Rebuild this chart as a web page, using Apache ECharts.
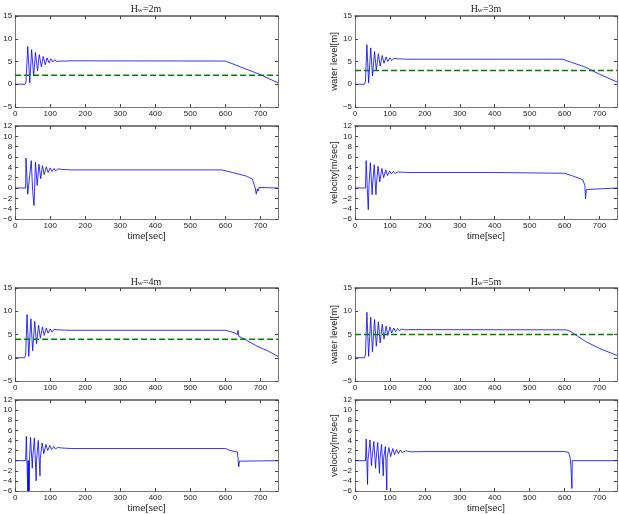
<!DOCTYPE html>
<html>
<head>
<meta charset="utf-8">
<script src="https://cdn.jsdelivr.net/npm/echarts@6/dist/echarts.min.js"></script>
<style>
  html, body { margin: 0; padding: 0; background: #fff; }
  #main { width: 619px; height: 514px; }
</style>
</head>
<body>
<div id="main"></div>
<script>
// weir height of each case [m]
var hwLevels = [2, 3, 4, 5];

// water level [m] over time [sec]
var waterLevel2 = [[0,0],[28,0],[31,0.5],[36,8.3],[42,0.3],[47,7.6],[53,1.8],[58,7.0],[64,3.0],[69,6.5],[75,3.8],[80,6.1],[86,4.3],[91,5.8],[97,4.7],[102,5.6],[108,4.9],[113,5.4],[119,5.0],[124,5.3],[130,5.1],[135,5.25],[145,5.1],[160,5.15],[600,5.1],[700,2.1],[750,0.3]];
var waterLevel3 = [[0,0],[27,0],[30,0.6],[34,8.7],[39,0.3],[45,8.0],[50,1.8],[56,7.2],[61,3.0],[67,6.7],[72,4.0],[78,6.3],[83,4.6],[89,6.0],[94,5.0],[100,5.8],[105,5.2],[111,5.7],[116,5.35],[122,5.6],[127,5.4],[135,5.55],[150,5.5],[595,5.5],[620,4.8],[655,3.9],[658,4.3],[660,3.6],[700,2.2],[750,0.5]];
var waterLevel4 = [[0,0],[27,0],[30,0.5],[34,9.3],[39,0.3],[45,8.4],[50,1.5],[56,7.8],[61,3.0],[67,7.0],[72,4.2],[78,6.6],[83,4.8],[89,6.4],[94,5.3],[100,6.2],[105,5.5],[111,6.1],[116,5.7],[122,6.0],[127,5.8],[140,5.95],[160,5.9],[600,5.9],[625,5.4],[634,5.0],[636,5.9],[638,4.6],[655,4.0],[690,2.5],[720,1.5],[750,0.3]];
var waterLevel5 = [[0,0],[27,0],[30,0.6],[34,9.8],[39,0.3],[45,8.7],[50,1.3],[56,8.2],[61,2.5],[67,7.7],[72,3.2],[78,7.2],[83,4.0],[89,6.8],[94,4.8],[100,6.6],[105,5.3],[111,6.4],[116,5.6],[122,6.3],[127,5.8],[133,6.15],[145,6.0],[160,6.05],[605,6.0],[618,5.6],[621,6.0],[623,5.2],[630,5.0],[660,3.5],[700,2.0],[750,0.5]];

// velocity [m/sec] over time [sec]
var velocity2 = [[0,0],[30,0],[31,5.8],[36,-1.2],[41,-1.0],[46,5.3],[50,-0.5],[54,-3.4],[58,5.0],[63,0.5],[68,4.6],[73,1.8],[78,4.3],[83,2.6],[89,4.1],[94,3.0],[100,3.9],[105,3.2],[111,3.8],[116,3.3],[122,3.7],[127,3.4],[133,3.6],[138,3.45],[150,3.55],[160,3.5],[590,3.5],[620,3.0],[660,2.3],[677,1.7],[682,1.5],[685,0],[688,-1.2],[691,-0.2],[693,-0.6],[696,0.1],[698,0],[750,0]];
var velocity3 = [[0,0],[30,0],[32,5.3],[36,-1.4],[38,-4.2],[40,0.5],[44,4.9],[49,-1.3],[50,0.2],[55,4.5],[60,-1.3],[61,0.4],[66,4.2],[71,1.2],[77,3.8],[82,2.0],[88,3.5],[93,2.4],[99,3.3],[104,2.7],[110,3.2],[115,2.8],[121,3.1],[126,2.9],[135,3.05],[160,3.0],[400,3.0],[600,2.85],[620,2.4],[645,1.8],[652,1.6],[655,1.3],[658,0.5],[660,-2.1],[662,-0.3],[664,0],[750,0]];
var velocity4 = [[0,0],[30,0],[32,4.8],[36,-6],[37,0],[38,-6],[39,0],[40,-6],[41,0],[44,4.6],[49,-1.5],[50,0.5],[55,4.5],[60,-4.0],[61,0],[66,4.0],[71,-3.0],[72,0.5],[77,3.5],[82,1.4],[88,3.2],[93,2.0],[99,3.0],[104,2.2],[110,2.8],[115,2.3],[121,2.6],[126,2.35],[135,2.5],[160,2.4],[600,2.4],[610,2.1],[625,1.8],[634,1.75],[636,0.5],[638,-1.2],[640,-0.1],[642,0],[750,0]];
var velocity5 = [[0,0],[30,0],[32,4.3],[36,-4.7],[37,0],[43,4.1],[47,-1.0],[48,0],[54,3.8],[59,-1.5],[60,0],[65,3.6],[70,-2.5],[71,0],[76,3.2],[81,-3.0],[82,0.5],[87,2.8],[91,-5.8],[92,0.5],[97,2.6],[102,0.8],[108,2.4],[113,1.2],[119,2.2],[124,1.4],[130,2.1],[135,1.6],[145,1.95],[160,1.75],[200,1.8],[600,1.8],[612,1.6],[616,0.5],[618,-1.0],[621,-5.5],[622,0],[750,0]];

var waterLevels = [waterLevel2, waterLevel3, waterLevel4, waterLevel5];
var velocities = [velocity2, velocity3, velocity4, velocity5];

var chart = echarts.init(document.getElementById('main'));

var grids = [], xAxes = [], yAxes = [], series = [], graphics = [];
var tickFont = { fontFamily: 'Liberation Sans', fontSize: 8, color: '#222' };
var frame = { show: true, onZero: false, lineStyle: { color: '#777', width: 1 } };
var frameTop = { show: true, onZero: false, lineStyle: { color: '#555', width: 1.5 } };
var ticks = { show: true, inside: true, length: 3, lineStyle: { color: '#444' } };
var minus = function (v) { return String(v).replace('-', '\u2212'); };

function addPanel(box, ymin, ymax, yint, yName, xName) {
  var g = grids.length;
  grids.push({ left: box[0], top: box[1], width: box[2], height: box[3] });
  var xi = xAxes.length, yi = yAxes.length;
  xAxes.push({
    type: 'value', gridIndex: g, position: 'bottom', min: 0, max: 750, interval: 100,
    axisLine: frame, axisTick: ticks, splitLine: { show: false },
    axisLabel: Object.assign({ margin: 3, showMaxLabel: false }, tickFont),
    name: xName, nameLocation: 'middle', nameGap: 12,
    nameTextStyle: { fontFamily: 'Liberation Sans', fontSize: 9.5, color: '#222' }
  });
  xAxes.push({
    type: 'value', gridIndex: g, position: 'top', min: 0, max: 750, interval: 100,
    axisLine: frameTop, axisTick: ticks,
    axisLabel: { show: false }, splitLine: { show: false }
  });
  yAxes.push({
    type: 'value', gridIndex: g, position: 'left', min: ymin, max: ymax, interval: yint,
    axisLine: frame, axisTick: ticks, splitLine: { show: false },
    axisLabel: Object.assign({ margin: 3, formatter: minus }, tickFont),
    name: yName, nameLocation: 'middle', nameGap: 14, nameRotate: 90,
    nameTextStyle: { fontFamily: 'Liberation Sans', fontSize: 9.5, color: '#222' }
  });
  yAxes.push({
    type: 'value', gridIndex: g, position: 'right', min: ymin, max: ymax, interval: yint,
    axisLine: frame, axisTick: ticks, axisLabel: { show: false }, splitLine: { show: false }
  });
  return { x: xi, y: yi };
}

hwLevels.forEach(function (hw, i) {
  var col = i % 2, row = Math.floor(i / 2);
  var left = col ? 355 : 14, width = col ? 262 : 264;
  var wBox = [left, row ? 288 : 16, width, row ? 93 : 91];
  var vBox = [left, row ? 400 : 126, width, row ? 92 : 93];

  var wa = addPanel(wBox, -5, 15, 5, col ? 'water level[m]' : '', '');
  series.push({
    type: 'line', xAxisIndex: wa.x, yAxisIndex: wa.y, data: waterLevels[i],
    showSymbol: false, symbol: 'none', animation: false,
    lineStyle: { color: '#0000ff', width: 0.8 }
  });
  series.push({
    type: 'line', xAxisIndex: wa.x, yAxisIndex: wa.y, data: [[0, hw], [750, hw]],
    showSymbol: false, symbol: 'none', animation: false,
    lineStyle: { color: '#008000', width: 1.5, type: [6, 3] }
  });

  var va = addPanel(vBox, -6, 12, 2, col ? 'velocity[m/sec]' : '', 'time[sec]');
  series.push({
    type: 'line', xAxisIndex: va.x, yAxisIndex: va.y, data: velocities[i],
    showSymbol: false, symbol: 'none', animation: false,
    lineStyle: { color: '#0000ff', width: 0.8 }
  });

  graphics.push({
    type: 'text', x: left + width / 2, y: row ? 282 : 9,
    style: {
      text: '{a|H}{b|w}{a|=' + hw + 'm}', align: 'center', verticalAlign: 'middle',
      rich: {
        a: { fontFamily: 'Liberation Serif', fontSize: 10, fill: '#222' },
        b: { fontFamily: 'Liberation Serif', fontSize: 7, fill: '#222', verticalAlign: 'bottom' }
      }
    }
  });
});

chart.setOption({
  animation: false,
  grid: grids,
  xAxis: xAxes,
  yAxis: yAxes,
  series: series,
  graphic: graphics
});
</script>
</body>
</html>
